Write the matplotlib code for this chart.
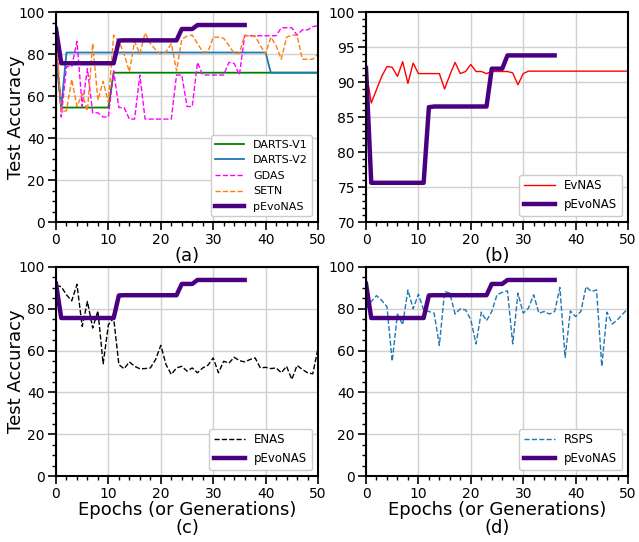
import matplotlib
matplotlib.use("Agg")
import matplotlib.pyplot as plt
from matplotlib.ticker import MultipleLocator

# ---------------- data ----------------
pevonas = [92.0] + [75.6] * 11 + [86.4] + [86.5] * 11 + [91.9] * 3 + [93.8] * 10  # epochs 0..36

darts_v1 = [80.0] + [54.5] * 10 + [71.1] * 40  # 0..50
darts_v2 = [80.0, 54.5] + [80.7] * 39 + [71.1] * 10  # 0..50

gdas = [90.0, 50.0, 74.0, 74.0, 86.0, 55.0, 73.0, 52.0, 52.0, 50.0,
        50.0, 72.0, 54.5, 54.5, 49.0, 49.0, 70.0, 49.0, 49.0, 49.0,
        49.0, 49.0, 49.0, 70.0, 70.0, 55.0, 55.0, 76.0, 70.0, 70.0,
        70.0, 70.0, 70.0, 76.0, 75.5, 70.0, 88.7, 88.7, 88.7, 88.7,
        88.7, 88.7, 88.7, 92.5, 92.5, 92.5, 89.0, 91.5, 91.5, 93.0, 93.5]

setn = [90.0, 52.5, 53.0, 68.0, 55.0, 61.0, 53.0, 85.0, 58.0, 67.0,
        57.0, 89.0, 86.0, 80.0, 71.5, 86.0, 80.0, 90.0, 85.0, 82.0,
        80.0, 81.0, 85.0, 72.0, 87.0, 88.5, 89.0, 85.0, 81.0, 81.0,
        88.0, 88.0, 87.5, 84.0, 80.3, 80.3, 89.0, 88.5, 88.5, 84.0,
        80.0, 88.0, 84.0, 77.5, 88.0, 89.0, 89.0, 77.5, 77.5, 77.5, 80.0]

evnas = [91.7, 87.0, 88.9, 90.8, 92.2, 92.1, 90.8, 92.9, 89.8, 92.7,
         91.2, 91.2, 91.2, 91.2, 91.2, 89.0, 91.0, 92.8, 91.2, 91.5,
         92.5, 91.5, 91.5, 91.2, 91.5, 91.5, 91.5, 91.5, 91.3, 89.6,
         91.2] + [91.55] * 20

enas = [91.1, 90.6, 86.7, 83.8, 91.7, 71.6, 83.5, 70.8, 79.0, 53.7,
        72.4, 75.6, 53.3, 51.3, 54.6, 52.5, 51.3, 51.4, 51.7, 55.7,
        62.5, 53.3, 48.6, 51.7, 52.5, 50.2, 51.7, 49.4, 51.7, 53.0,
        56.5, 49.4, 54.9, 54.0, 56.8, 55.2, 54.6, 55.7, 56.5, 51.7,
        52.0, 51.4, 51.7, 49.4, 52.5, 46.2, 52.9, 51.0, 49.4, 48.9, 61.0]

rsps = [80.0, 83.5, 86.3, 84.0, 81.0, 54.9, 77.5, 72.4, 89.0, 80.0,
        87.0, 79.5, 78.7, 77.9, 62.5, 88.3, 87.5, 77.5, 80.0, 79.5,
        74.8, 63.2, 78.4, 74.3, 78.7, 86.7, 87.9, 88.6, 63.2, 87.5,
        77.9, 80.3, 86.7, 77.9, 78.7, 77.5, 78.7, 90.2, 56.8, 79.0,
        76.3, 78.7, 90.6, 88.3, 89.0, 52.5, 78.4, 72.7, 74.8, 77.5, 80.3]

x51 = list(range(51))
xp = list(range(len(pevonas)))

# ---------------- figure ----------------
W, H = 639, 542
fig = plt.figure(figsize=(W / 100, H / 100), dpi=100)

def ax_at(l, r, t, b):
    return fig.add_axes([l / W, 1 - b / H, (r - l) / W, (b - t) / H])

axa = ax_at(56, 318, 12, 222)
axb = ax_at(366, 628, 12, 222)
axc = ax_at(56, 318, 267, 476)
axd = ax_at(366, 628, 267, 476)

PCOL = "#4b0082"
PLW = 3.2
TFS = 10
LFS = 13

def style(ax, ylim, major, minor):
    ax.set_xlim(0, 50)
    ax.set_ylim(*ylim)
    ax.xaxis.set_major_locator(MultipleLocator(10))
    ax.xaxis.set_minor_locator(MultipleLocator(2))
    ax.yaxis.set_major_locator(MultipleLocator(major))
    ax.yaxis.set_minor_locator(MultipleLocator(minor))
    ax.grid(True, which="major", color="#d0d0d0", linewidth=1.0)
    ax.set_axisbelow(True)
    ax.tick_params(which="major", direction="out", length=6, width=1.2, labelsize=TFS, pad=2)
    ax.tick_params(which="minor", direction="out", length=3, width=1.0)
    for s in ax.spines.values():
        s.set_linewidth(1.5)

# (a)
axa.plot(x51, darts_v1, color="green", lw=1.3, label="DARTS-V1")
axa.plot(x51, darts_v2, color="#1f77b4", lw=1.3, label="DARTS-V2")
axa.plot(x51, gdas, color="magenta", lw=1.0, ls="--", label="GDAS")
axa.plot(x51, setn, color="#ff7f0e", lw=1.0, ls="--", label="SETN")
axa.plot(xp, pevonas, color=PCOL, lw=PLW, label="pEvoNAS")
style(axa, (0, 100), 20, 5)
axa.set_ylabel("Test Accuracy", fontsize=LFS)
axa.yaxis.set_label_coords(-0.118, 0.5)
axa.set_xlabel("(a)", fontsize=LFS, labelpad=0)
axa.legend(loc="lower right", fontsize=8, handlelength=2.6, framealpha=1.0)

# (b)
axb.plot(x51, evnas, color="red", lw=1.0, label="EvNAS")
axb.plot(xp, pevonas, color=PCOL, lw=PLW, label="pEvoNAS")
style(axb, (70, 100), 5, 1)
axb.set_xlabel("(b)", fontsize=LFS, labelpad=0)
axb.legend(loc="lower right", fontsize=8.5, handlelength=2.6, framealpha=1.0)

# (c)
axc.plot(x51, enas, color="black", lw=1.0, ls="--", label="ENAS")
axc.plot(xp, pevonas, color=PCOL, lw=PLW, label="pEvoNAS")
style(axc, (0, 100), 20, 5)
axc.set_ylabel("Test Accuracy", fontsize=LFS)
axc.yaxis.set_label_coords(-0.118, 0.5)
axc.set_xlabel("Epochs (or Generations)\n(c)", fontsize=LFS, labelpad=0, linespacing=1.0)
axc.legend(loc="lower right", fontsize=8.5, handlelength=2.6, framealpha=1.0)

# (d)
axd.plot(x51, rsps, color="#1f77b4", lw=1.0, ls="--", label="RSPS")
axd.plot(xp, pevonas, color=PCOL, lw=PLW, label="pEvoNAS")
style(axd, (0, 100), 20, 5)
axd.set_xlabel("Epochs (or Generations)\n(d)", fontsize=LFS, labelpad=0, linespacing=1.0)
axd.legend(loc="lower right", fontsize=8.5, handlelength=2.6, framealpha=1.0)

fig.savefig("out.png", dpi=100)
